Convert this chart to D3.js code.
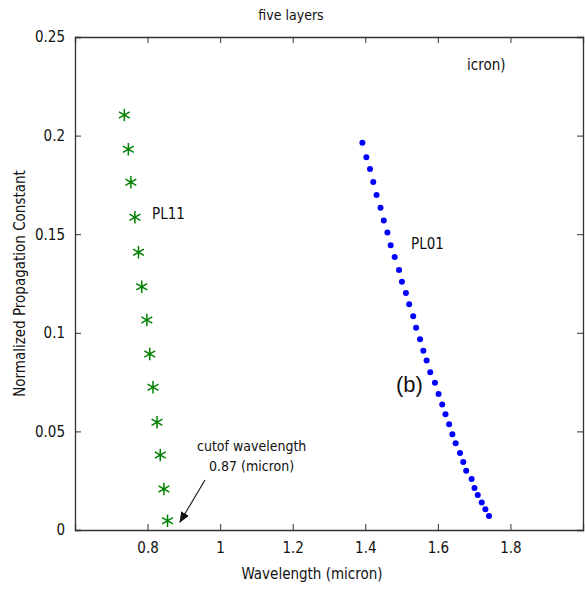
<!DOCTYPE html>
<html>
<head>
<meta charset="utf-8">
<script src="https://cdn.jsdelivr.net/npm/d3@7"></script>
<style>
  body { margin: 0; background: #fff; }
  text { font-family: "Liberation Sans Narrow", "DejaVu Sans Condensed", "Liberation Sans", sans-serif; fill: #111; }
</style>
</head>
<body>
<div id="chart"></div>
<script>
var width = 585;
var height = 590;

// PL11 (green stars)
const pl11_x = [0.736, 0.747, 0.754, 0.765, 0.775, 0.784, 0.798, 0.806, 0.815, 0.826, 0.835, 0.845, 0.855];
const pl11_y = [0.2104, 0.1931, 0.1763, 0.1586, 0.1408, 0.1234, 0.1065, 0.0892, 0.0724, 0.0546, 0.0380, 0.0208, 0.0047];

// PL01 (blue dots)
const pl01_x = [1.392, 1.403, 1.413, 1.422, 1.431, 1.442, 1.451, 1.461, 1.470, 1.481, 1.493, 1.501,
                1.512, 1.521, 1.532, 1.540, 1.551, 1.560, 1.569, 1.579, 1.592, 1.602, 1.612, 1.621,
                1.631, 1.640, 1.649, 1.661, 1.670, 1.678, 1.693, 1.701, 1.710, 1.721, 1.731, 1.741];
const pl01_y = [0.1964, 0.1890, 0.1831, 0.1765, 0.1699, 0.1634, 0.1570, 0.1508, 0.1444, 0.1384, 0.1318, 0.1259,
                0.1202, 0.1145, 0.1084, 0.1026, 0.0967, 0.0909, 0.0859, 0.0800, 0.0747, 0.0690, 0.0637, 0.0587,
                0.0536, 0.0485, 0.0440, 0.0390, 0.0345, 0.0301, 0.0259, 0.0213, 0.0177, 0.0140, 0.0105, 0.0071];

const x_ticks = [0.8, 1, 1.2, 1.4, 1.6, 1.8];
const x_labels = ["0.8", "1", "1.2", "1.4", "1.6", "1.8"];
const y_ticks = [0, 0.05, 0.1, 0.15, 0.2, 0.25];
const y_labels = ["0", "0.05", "0.1", "0.15", "0.2", "0.25"];

var margin = {left: 75, right: 2, top: 37, bottom: 60};

var svg = d3.select("#chart")
    .append("svg")
    .attr("width", width)
    .attr("height", height);

var x = d3.scaleLinear().domain([0.6, 2.0]).range([margin.left, width - margin.right]);
var y = d3.scaleLinear().domain([0, 0.25]).range([height - margin.bottom, margin.top]);

// axes with inward ticks (box style)
var xAxis = d3.axisBottom(x).tickValues(x_ticks).tickSize(-6).tickPadding(12)
    .tickFormat((d, i) => x_labels[i]);
var xTop = d3.axisTop(x).tickValues(x_ticks).tickSize(-6).tickFormat("");
var yAxis = d3.axisLeft(y).tickValues(y_ticks).tickSize(-6).tickPadding(10)
    .tickFormat((d, i) => y_labels[i]);
var yRight = d3.axisRight(y).tickValues(y_ticks).tickSize(-6).tickFormat("");

function style_axis(g) {
    g.select(".domain").attr("stroke", "#333").attr("stroke-width", 1.3);
    g.selectAll(".tick line").attr("stroke", "#333");
    g.selectAll(".tick text").style("font-size", "15px").attr("fill", "#111");
}

svg.append("g").attr("transform", "translate(0," + y(0) + ")").call(xAxis).call(style_axis);
svg.append("g").attr("transform", "translate(0," + y(0.25) + ")").call(xTop).call(style_axis);
svg.append("g").attr("transform", "translate(" + x(0.6) + ",0)").call(yAxis).call(style_axis);
svg.append("g").attr("transform", "translate(" + x(2.0) + ",0)").call(yRight).call(style_axis);

// title and axis labels
svg.append("text").attr("x", 291).attr("y", 20).attr("text-anchor", "middle")
    .style("font-size", "14px").text("five layers");
svg.append("text").attr("x", 312).attr("y", 579).attr("text-anchor", "middle")
    .style("font-size", "15px").text("Wavelength (micron)");
svg.append("text")
    .attr("transform", "translate(25," + ((y(0) + y(0.25)) / 2) + ") rotate(-90)")
    .attr("text-anchor", "middle")
    .style("font-size", "15px").text("Normalized Propagation Constant");
svg.append("text").attr("x", 467).attr("y", 70)
    .style("font-size", "15px").text("icron)");

// PL11 stars
svg.append("g").selectAll("path")
    .data(pl11_x.map((d, i) => [d, pl11_y[i]]))
    .enter().append("path")
    .attr("transform", d => "translate(" + x(d[0]) + "," + y(d[1]) + ")")
    .attr("d", d3.symbol(d3.symbolAsterisk, 110))
    .attr("fill", "none")
    .attr("stroke", "#008000")
    .attr("stroke-width", 1.5);

// PL01 dots
svg.append("g").selectAll("circle")
    .data(pl01_x.map((d, i) => [d, pl01_y[i]]))
    .enter().append("circle")
    .attr("cx", d => x(d[0]))
    .attr("cy", d => y(d[1]))
    .attr("r", 3)
    .attr("fill", "#0000ff");

// annotations
svg.append("text").attr("x", 152).attr("y", 219).style("font-size", "15px").text("PL11");
svg.append("text").attr("x", 411).attr("y", 249).style("font-size", "15px").text("PL01");
svg.append("text").attr("x", 396).attr("y", 392)
    .style("font-family", "'Liberation Sans', Arial, sans-serif")
    .style("font-size", "22px").text("(b)");
svg.append("text").attr("x", 197).attr("y", 451).style("font-size", "14px").text("cutof wavelength");
svg.append("text").attr("x", 209).attr("y", 471).style("font-size", "14px").text("0.87 (micron)");

svg.append("defs").append("marker")
    .attr("id", "arrow")
    .attr("viewBox", "0 0 10 10")
    .attr("refX", 9).attr("refY", 5)
    .attr("markerWidth", 10).attr("markerHeight", 10)
    .attr("orient", "auto")
    .append("path").attr("d", "M0,1 L10,5 L0,9 Z").attr("fill", "#111");

svg.append("line")
    .attr("x1", 205).attr("y1", 480)
    .attr("x2", 180).attr("y2", 522)
    .attr("stroke", "#111").attr("stroke-width", 1.1)
    .attr("marker-end", "url(#arrow)");
</script>
</body>
</html>
